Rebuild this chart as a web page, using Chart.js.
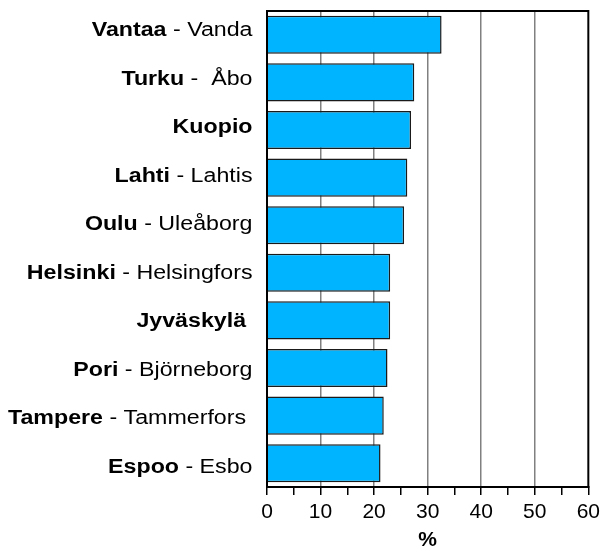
<!DOCTYPE html>
<html>
<head>
<meta charset="utf-8">
<script src="https://cdn.jsdelivr.net/npm/chart.js@4.4.1/dist/chart.umd.min.js"></script>
<style>
  html, body { margin: 0; padding: 0; background: #fff; }
</style>
</head>
<body>
<canvas id="cityChart" width="605" height="549"></canvas>
<script>
const cityNames = ["Vantaa", "Turku", "Kuopio", "Lahti", "Oulu", "Helsinki", "Jyväskylä ", "Pori", "Tampere", "Espoo"];
const swedishNames = ["Vanda", " Åbo", "", "Lahtis", "Uleåborg", "Helsingfors", "", "Björneborg", "Tammerfors ", "Esbo"];
const shares = [32.6, 27.5, 26.9, 26.2, 25.6, 23.0, 23.0, 22.5, 21.8, 21.2];
const xTicks = [0, 10, 20, 30, 40, 50, 60];

const FONT = "'Liberation Sans', Arial, sans-serif";

// labels mix bold Finnish name + regular Swedish name, so draw them by hand
const cityLabels = {
  id: "cityLabels",
  afterDraw(chart) {
    const { ctx } = chart;
    const y = chart.scales.y;
    ctx.save();
    ctx.fillStyle = "#000";
    ctx.textBaseline = "middle";
    ctx.textAlign = "right";
    cityNames.forEach((name, i) => {
      // the original's labels are spaced a touch wider than the bars
      const cy = y.getPixelForValue(i) - 4 + i * 0.9;
      const rest = swedishNames[i] ? " - " + swedishNames[i] : "";
      ctx.save();
      ctx.translate(252.5, cy);
      ctx.scale(1.16, 1);
      ctx.font = "20px " + FONT;
      const restW = ctx.measureText(rest).width;
      if (rest) ctx.fillText(rest, 0, 0);
      ctx.font = "bold 20px " + FONT;
      ctx.fillText(name, -restW, 0);
      ctx.restore();
    });
    ctx.restore();
  },
};

// black frame round the plot area (top + right edges)
const plotFrame = {
  id: "plotFrame",
  afterDatasetsDraw(chart) {
    const { ctx, chartArea: a } = chart;
    ctx.save();
    ctx.strokeStyle = "#000";
    ctx.lineWidth = 2;
    ctx.strokeRect(a.left, a.top, a.right - a.left, a.bottom - a.top);
    ctx.restore();
  },
};

new Chart(document.getElementById("cityChart"), {
  type: "bar",
  data: {
    labels: cityNames,
    datasets: [
      {
        data: shares,
        backgroundColor: "#00B4FF",
        borderColor: "#1a1a1a",
        borderWidth: 1.5,
        categoryPercentage: 1,
        barPercentage: 0.8,
      },
    ],
  },
  options: {
    indexAxis: "y",
    responsive: false,
    animation: false,
    devicePixelRatio: 1,
    layout: { padding: { top: 11, right: 15.5, bottom: 0, left: 0 } },
    plugins: {
      legend: { display: false },
      tooltip: { enabled: false },
    },
    scales: {
      x: {
        type: "linear",
        min: 0,
        max: 60,
        ticks: {
          stepSize: 5,
          autoSkip: false,
          maxRotation: 0,
          color: "#000",
          padding: 5,
          font: { family: FONT, size: 21 },
          callback: (v) => (xTicks.includes(v) ? String(v) : ""),
        },
        grid: {
          color: (c) =>
            c.tick && c.tick.value % 10 === 0 && c.tick.value > 0 && c.tick.value < 60
              ? "#808080"
              : "rgba(0,0,0,0)",
          lineWidth: 1.5,
          tickColor: "#000",
          tickLength: 8,
        },
        border: { color: "#000", width: 2 },
        title: {
          display: true,
          text: "%",
          color: "#000",
          font: { family: FONT, size: 21, weight: "bold" },
          padding: { top: 0, bottom: -4 },
        },
        afterFit: (s) => {
          s.height = 62;
        },
      },
      y: {
        ticks: { display: false },
        grid: { display: false },
        border: { color: "#000", width: 2 },
        afterFit: (s) => {
          s.width = 267;
        },
      },
    },
  },
  plugins: [cityLabels, plotFrame],
});
</script>
</body>
</html>
